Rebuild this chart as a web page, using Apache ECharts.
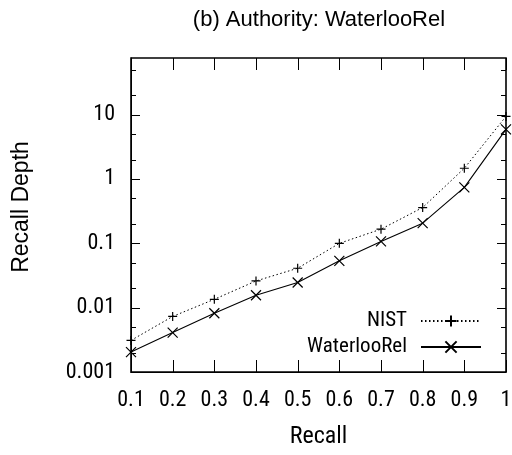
<!DOCTYPE html>
<html>
<head>
<meta charset="utf-8">
<script src="https://cdn.jsdelivr.net/npm/echarts@6/dist/echarts.min.js"></script>
<style>html,body{margin:0;padding:0;background:#fff}#c{width:512px;height:455px}</style>
</head>
<body>
<div id="c"></div>
<script>
var recall = [0.1, 0.2, 0.3, 0.4, 0.5, 0.6, 0.7, 0.8, 0.9, 1.0];
var nist = [0.0031, 0.0073, 0.0135, 0.026, 0.041, 0.10, 0.166, 0.36, 1.47, 9.4];
var waterloo = [0.00204, 0.0041, 0.0082, 0.0156, 0.0246, 0.0534, 0.107, 0.206, 0.74, 5.9];
var xTicks = [0.1, 0.2, 0.3, 0.4, 0.5, 0.6, 0.7, 0.8, 0.9, 1.0];
var yMajorTicks = [0.001, 0.01, 0.1, 1, 10];
var yMinorTicks = [0.002, 0.005, 0.02, 0.05, 0.2, 0.5, 2, 5, 20, 50];
var xMin = 0.1, xMax = 1, yMin = 0.001, yMax = 76;

var COND = '"Roboto Condensed", "Liberation Sans", Arial, sans-serif';
var REG = '"Liberation Sans", Arial, sans-serif';
var PLUS = 'path://M0,5L10,5M5,0L5,10';
var CROSS = 'path://M0,0L10,10M10,0L0,10';

function pairs(xs, ys) { return xs.map(function (x, i) { return [x, ys[i]]; }); }
function isDecade(v) { var l = Math.log10(v); return Math.abs(l - Math.round(l)) < 1e-6; }

// tick descriptors (mirrored on both sides like gnuplot)
var tickItems = [];
yMajorTicks.forEach(function (v) { tickItems.push({axis: 'y', v: v, len: 9}); });
yMinorTicks.forEach(function (v) { tickItems.push({axis: 'y', v: v, len: 5}); });
xTicks.forEach(function (v) { tickItems.push({axis: 'x', v: v, len: 12}); });

function px(n) { return Math.round(n) + 0.5; }
function renderTick(params, api) {
  var t = tickItems[params.dataIndex];
  var s = {stroke: '#000', lineWidth: 1};
  var a, b;
  if (t.axis === 'y') {
    a = api.coord([xMin, t.v]); b = api.coord([xMax, t.v]);
    var y = px(a[1]);
    return {type: 'group', children: [
      {type: 'line', shape: {x1: a[0], y1: y, x2: a[0] + t.len, y2: y}, style: s},
      {type: 'line', shape: {x1: b[0] - t.len, y1: y, x2: b[0], y2: y}, style: s}
    ]};
  }
  a = api.coord([t.v, yMin]); b = api.coord([t.v, yMax]);
  var x = px(a[0]);
  return {type: 'group', children: [
    {type: 'line', shape: {x1: x, y1: a[1], x2: x, y2: a[1] - t.len}, style: s},
    {type: 'line', shape: {x1: x, y1: b[1], x2: x, y2: b[1] + t.len}, style: s}
  ]};
}

var chart = echarts.init(document.getElementById('c'));

var option = {
  animation: false,
  backgroundColor: '#fff',
  title: {
    text: '(b) Authority: WaterlooRel', left: 314, top: 4, textAlign: 'center',
    textStyle: {fontFamily: REG, fontSize: 22, fontWeight: 'normal', color: '#000'}
  },
  grid: {left: 131, right: 6, top: 58, bottom: 83, outerBoundsMode: 'none',
    show: true, borderColor: '#000', borderWidth: 1.6, backgroundColor: 'transparent'},
  legend: {
    orient: 'vertical', right: 30, top: 310, align: 'right', padding: 0,
    itemWidth: 60, itemHeight: 14, itemGap: 4,
    textStyle: {fontFamily: COND, fontSize: 21, color: '#000', lineHeight: 22, padding: [0, 9, 0, 0]},
    data: ['NIST', 'WaterlooRel']
  },
  xAxis: {
    type: 'value', min: xMin, max: xMax, interval: 0.1, position: 'bottom',
    axisLine: {show: true, lineStyle: {color: '#000'}},
    axisTick: {show: false},
    axisLabel: {color: '#000', fontFamily: COND, fontSize: 22, margin: 17,
      formatter: function (v) { return String(+v.toFixed(2)); }},
    splitLine: {show: false},
    name: 'Recall', nameLocation: 'middle', nameGap: 53,
    nameTextStyle: {color: '#000', fontFamily: COND, fontSize: 24}
  },
  yAxis: {
    type: 'log', min: yMin, max: yMax, position: 'left',
    axisLine: {show: true, lineStyle: {color: '#000'}},
    axisTick: {show: false},
    axisLabel: {
      show: true, color: '#000', fontFamily: COND, fontSize: 22, margin: 16,
      formatter: function (v) { return isDecade(v) ? String(+v.toPrecision(6)) : ''; }
    },
    splitLine: {show: false},
    name: 'Recall Depth', nameLocation: 'middle', nameGap: 98,
    nameTextStyle: {color: '#000', fontFamily: REG, fontSize: 23, padding: [0, 0, 0, 16]}
  },
  series: [
    {
      name: 'ticks', type: 'custom', silent: true, z: 3, clip: false,
      renderItem: renderTick,
      data: tickItems.map(function (t) { return t.axis === 'y' ? [xMin, t.v] : [t.v, yMin]; })
    },
    {
      name: 'NIST', type: 'line',
      data: pairs(recall, nist),
      symbol: PLUS, symbolSize: 9, showAllSymbol: true,
      lineStyle: {color: '#000', width: 1, type: [1.5, 2.5]},
      itemStyle: {color: '#000', borderColor: '#000', borderWidth: 1.2},
      clip: false
    },
    {
      name: 'WaterlooRel', type: 'line',
      data: pairs(recall, waterloo),
      symbol: CROSS, symbolSize: 10, showAllSymbol: true,
      lineStyle: {color: '#000', width: 1.1},
      itemStyle: {color: '#000', borderColor: '#000', borderWidth: 1.2},
      clip: false
    }
  ]
};
chart.setOption(option);
</script>
</body>
</html>
